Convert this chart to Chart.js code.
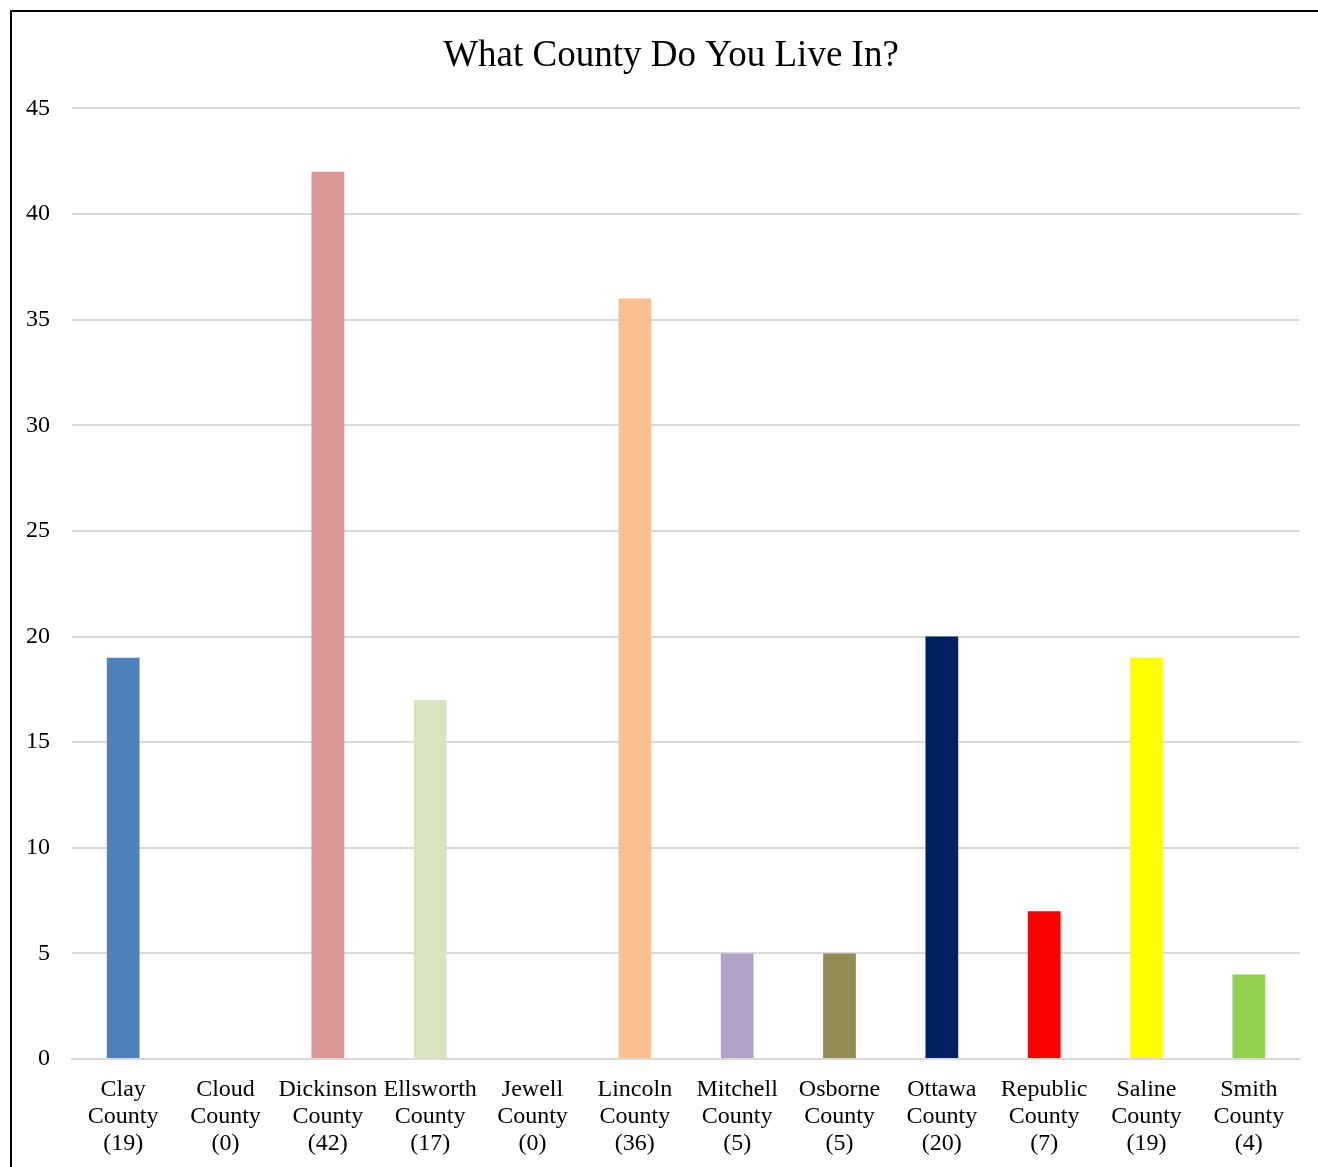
<!DOCTYPE html>
<html>
<head>
<meta charset="utf-8">
<script src="https://cdn.jsdelivr.net/npm/chart.js@4.4.1/dist/chart.umd.min.js"></script>
<style>
    body { margin: 0; background: #fff; overflow: hidden; }
    #frame {
        position: absolute; left: 10px; top: 10px; width: 1400px; height: 1300px;
        border-left: 2px solid #000; border-top: 2px solid #000;
    }
    #wrap { position: absolute; left: 0; top: 0; width: 1318px; height: 1167px; }
</style>
</head>
<body>
<div id="frame"></div>
<div id="wrap"><canvas id="countyChart"></canvas></div>
<script>
// chart data
const counties = ["Clay", "Cloud", "Dickinson", "Ellsworth", "Jewell", "Lincoln", "Mitchell", "Osborne", "Ottawa", "Republic", "Saline", "Smith"];
const responses = [19, 0, 42, 17, 0, 36, 5, 5, 20, 7, 19, 4];
const barColors = ['#4f81bd', '#c0504d', '#d99694', '#d7e4bd', '#8064a2', '#fac090', '#b3a2c7', '#948a54', '#002060', '#ff0000', '#ffff00', '#92d050'];
const yTicks = [0, 5, 10, 15, 20, 25, 30, 35, 40, 45];

// the original frame is wider than the window, so its title sits a bit right of centre
const titleShift = {
    id: 'titleShift',
    afterLayout(chart) {
        if (chart.titleBlock) {
            chart.titleBlock.left += 15;
            chart.titleBlock.right += 15;
        }
    }
};

function initializeCountyChart() {
    // three-line category labels: name / County / (count)
    const labels = counties.map((name, i) => [name, 'County', '(' + responses[i] + ')']);

    const config = {
        type: 'bar',
        data: {
            labels: labels,
            datasets: [{
                label: 'Responses',
                data: responses,
                backgroundColor: barColors,
                borderWidth: 0,
                categoryPercentage: 1,
                barPercentage: 0.32,
            }]
        },
        options: {
            responsive: false,
            animation: false,
            layout: {
                padding: { left: 12, right: 18, top: 12, bottom: 0 }
            },
            plugins: {
                legend: { display: false },
                tooltip: { enabled: false },
                title: {
                    display: true,
                    text: 'What County Do You Live In?',
                    color: '#000',
                    font: { family: '"Liberation Serif", "Times New Roman", serif', size: 37, weight: 'normal' },
                    padding: { top: 22, bottom: 30 },
                },
            },
            scales: {
                x: {
                    grid: { display: false, drawTicks: false },
                    border: { display: true, color: '#d9d9d9', width: 2 },
                    ticks: {
                        color: '#000',
                        maxRotation: 0,
                        autoSkip: false,
                        padding: 17,
                        font: { family: '"Liberation Serif", "Times New Roman", serif', size: 24, lineHeight: 1.13 },
                    },
                    afterFit: function (scale) { scale.height = 108; },
                },
                y: {
                    min: 0,
                    max: yTicks[yTicks.length - 1],
                    afterBuildTicks: function (scale) {
                        scale.ticks = yTicks.map(v => ({ value: v }));
                    },
                    grid: { color: '#d9d9d9', lineWidth: 2, drawTicks: false },
                    border: { display: false },
                    ticks: {
                        color: '#000',
                        padding: 22,
                        font: { family: '"Liberation Serif", "Times New Roman", serif', size: 24 },
                    },
                    afterFit: function (scale) { scale.width = 60; },
                },
            },
        },
        plugins: [titleShift],
    };

    const canvas = document.getElementById('countyChart');
    canvas.width = 1318;
    canvas.height = 1167;
    const countyChart = new Chart(canvas.getContext('2d'), config);
}

document.addEventListener('DOMContentLoaded', initializeCountyChart);
</script>
</body>
</html>
